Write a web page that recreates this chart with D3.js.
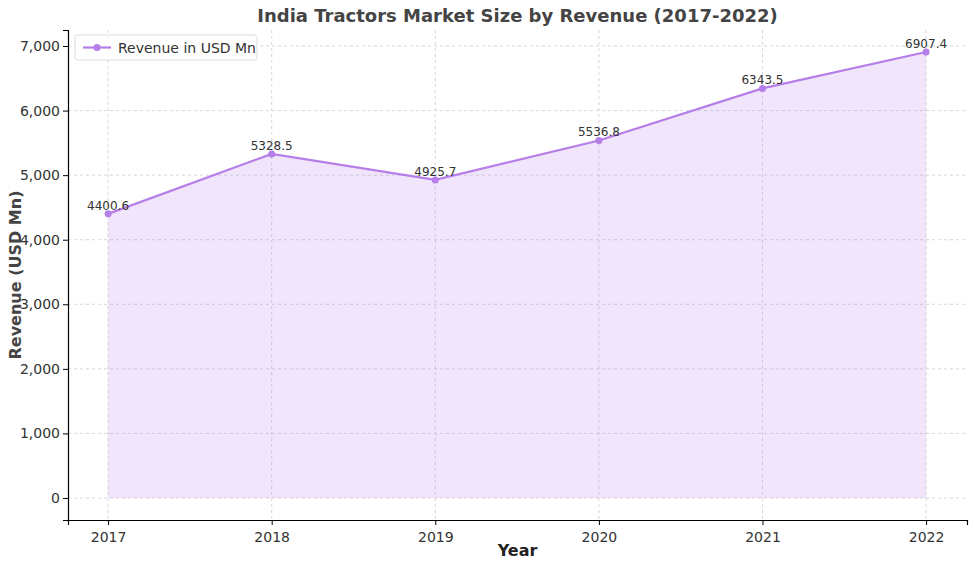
<!DOCTYPE html>
<html>
<head>
<meta charset="UTF-8">
<script src="https://cdn.jsdelivr.net/npm/d3@7"></script>
<style>
body { margin: 0; background: #fff; font-family: "DejaVu Sans", sans-serif; }
</style>
</head>
<body>
<svg width="975" height="566"></svg>
<script>
const years = [2017, 2018, 2019, 2020, 2021, 2022];
const revenue = [4400.6, 5328.5, 4925.7, 5536.8, 6343.5, 6907.4];
const yTicks = [0, 1000, 2000, 3000, 4000, 5000, 6000, 7000];

const svg = d3.select("svg"),
    margin = { top: 30, right: 8, bottom: 46, left: 68 },
    width = 975 - margin.left - margin.right,
    height = 566 - margin.top - margin.bottom,
    g = svg.append("g").attr("transform", `translate(${margin.left},${margin.top})`);

const x = d3.scaleLinear().domain([2016.755, 2022.25]).range([0, width]);
const y = d3.scaleLinear().domain([-341, 7248]).range([height, 0]);
const data = years.map((yr, i) => ({ yr, v: revenue[i] }));
const color = "#b57ee8";

// grid
g.selectAll(".gx").data(years).enter().append("line")
    .attr("x1", d => x(d)).attr("x2", d => x(d)).attr("y1", 0).attr("y2", height)
    .attr("stroke", "#ccc").attr("stroke-dasharray", "3,3").attr("stroke-width", 0.8);
g.selectAll(".gy").data(yTicks).enter().append("line")
    .attr("y1", d => y(d)).attr("y2", d => y(d)).attr("x1", 0).attr("x2", width)
    .attr("stroke", "#ccc").attr("stroke-dasharray", "3,3").attr("stroke-width", 0.8);

g.append("path").datum(data)
    .attr("fill", color).attr("fill-opacity", 0.2)
    .attr("d", d3.area().x(d => x(d.yr)).y0(y(0)).y1(d => y(d.v)));
g.append("path").datum(data)
    .attr("fill", "none").attr("stroke", color).attr("stroke-width", 2.2)
    .attr("d", d3.line().x(d => x(d.yr)).y(d => y(d.v)));
g.selectAll(".pt").data(data).enter().append("circle")
    .attr("cx", d => x(d.yr)).attr("cy", d => y(d.v)).attr("r", 3.5).attr("fill", color);
g.selectAll(".lbl").data(data).enter().append("text")
    .attr("x", d => x(d.yr)).attr("y", d => y(d.v) - 4)
    .attr("text-anchor", "middle").attr("font-size", 12).attr("fill", "#333")
    .text(d => d.v.toFixed(1));

const xa = g.append("g").attr("transform", `translate(0,${height})`)
    .call(d3.axisBottom(x).tickValues(years).tickFormat(d3.format("d")).tickSize(5));
const ya = g.append("g").call(d3.axisLeft(y).tickValues(yTicks).tickSize(5));
[xa, ya].forEach(a => {
    a.selectAll("text").attr("font-size", 14).attr("fill", "#333").attr("font-family", "DejaVu Sans");
    a.select(".domain").attr("stroke", "#000").attr("stroke-width", 1.2);
});
xa.selectAll("text").attr("dy", "1em");

svg.append("text").attr("x", margin.left + width / 2).attr("y", 22)
    .attr("text-anchor", "middle").attr("font-size", 18).attr("font-weight", "bold")
    .attr("fill", "#444").text("India Tractors Market Size by Revenue (2017-2022)");
svg.append("text").attr("x", margin.left + width / 2).attr("y", 556)
    .attr("text-anchor", "middle").attr("font-size", 16).attr("font-weight", "bold")
    .attr("fill", "#222").text("Year");
svg.append("text").attr("transform", `translate(21,${margin.top + height / 2}) rotate(-90)`)
    .attr("text-anchor", "middle").attr("font-size", 16).attr("font-weight", "bold")
    .attr("fill", "#444").text("Revenue (USD Mn)");

// legend
const lg = svg.append("g").attr("transform", "translate(75,35)");
lg.append("rect").attr("width", 182).attr("height", 25).attr("rx", 3)
    .attr("fill", "#fff").attr("fill-opacity", 0.8).attr("stroke", "#ddd");
lg.append("line").attr("x1", 8).attr("x2", 36).attr("y1", 12.5).attr("y2", 12.5)
    .attr("stroke", color).attr("stroke-width", 2.2);
lg.append("circle").attr("cx", 22).attr("cy", 12.5).attr("r", 3.5).attr("fill", color);
lg.append("text").attr("x", 43).attr("y", 17.5).attr("font-size", 14).attr("fill", "#333")
    .text("Revenue in USD Mn");
</script>
</body>
</html>
